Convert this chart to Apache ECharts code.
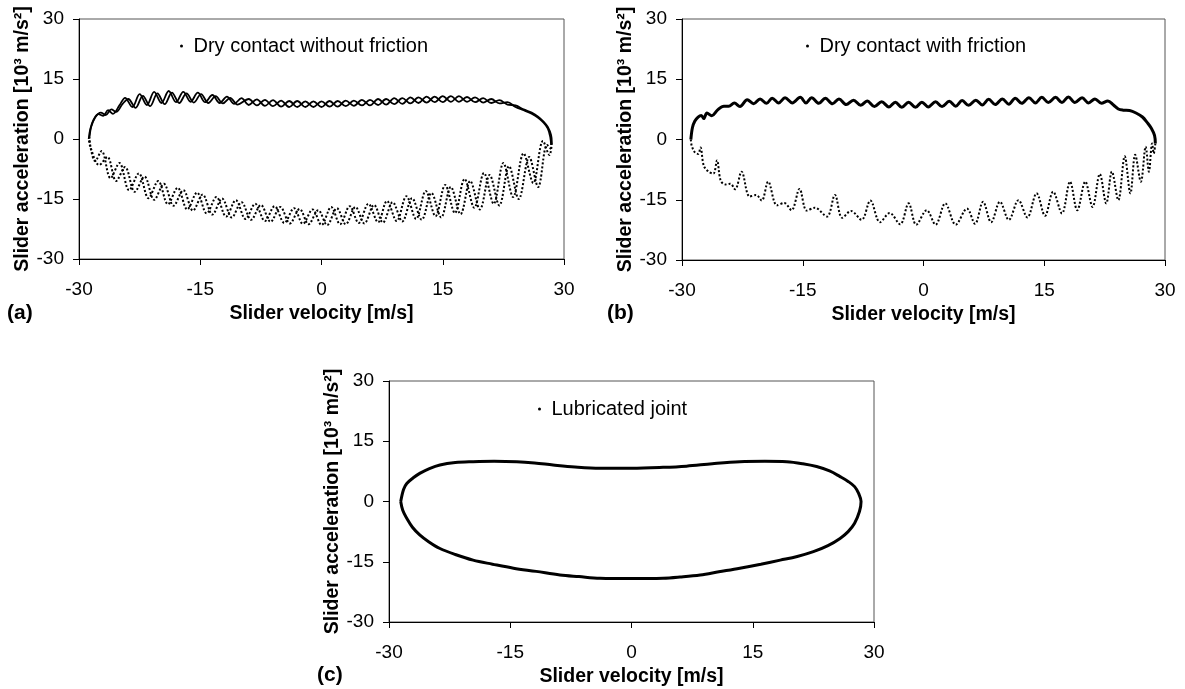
<!DOCTYPE html>
<html><head><meta charset="utf-8">
<script src="https://cdn.jsdelivr.net/npm/echarts@6/dist/echarts.min.js"></script>
<style>html,body{margin:0;padding:0;background:#fff}#chart{width:1185px;height:689px}</style>
</head><body><div id="chart"></div>
<script>
const axisTicks = [-30, -15, 0, 15, 30];
const xAxisTitle = 'Slider velocity [m/s]';
const yAxisTitle = 'Slider acceleration [10³ m/s²]';
const panelLabels = ['(a)', '(b)', '(c)'];
const legendNames = ['Dry contact without friction', 'Dry contact with friction', 'Lubricated joint'];

// Panel (a): dry contact without friction (two cycles)
const aUpper1 = [[-28.8,0.0],[-28.6,2.5],[-28.2,4.8],[-27.6,6.2],[-27.0,5.8],[-26.4,7.2],[-25.8,6.3],[-25.0,8.4],
 [-24.3,10.3],[-23.4,8.0],[-22.5,11.2],[-21.6,8.5],[-20.7,11.8],[-19.8,9.0],[-18.9,12.0],[-18.0,9.2],[-17.1,11.8],[-16.2,9.3],
 [-15.3,11.6],[-14.4,9.2],[-13.5,11.0],[-12.6,9.0],[-11.7,10.6],[-10.8,8.8],[-9.9,10.2],[-9.0,8.5],[-8.0,9.9],[-7.0,8.3],
 [-6.0,9.7],[-5.0,8.1],[-4.0,9.5],[-3.0,8.0],[-2.0,9.4],[-1.0,8.0],[0.0,9.4],[1.0,8.1],[2.0,9.5],[3.0,8.2],[4.0,9.6],[5.0,8.4],
 [6.0,9.8],[7.0,8.5],[8.0,10.0],[9.0,8.7],[10.0,10.2],[11.0,8.9],[12.0,10.4],[13.0,9.1],[14.0,10.6],[15.0,9.2],[16.0,10.7],
 [17.0,9.3],[18.0,10.5],[19.0,9.2],[20.0,10.2],[21.0,9.0],[22.0,9.7],[23.0,8.6],[24.0,8.4],[25.0,7.4],[26.0,6.6],[26.8,5.6],
 [27.5,4.3],[28.0,3.0],[28.4,1.0],[28.5,-1.0]];
const aUpper2 = [[-28.7,0.5],[-28.5,3.0],[-28.0,5.4],[-27.3,6.6],[-26.7,6.0],[-26.0,7.4],[-25.4,6.8],[-24.6,8.8],
 [-23.9,10.0],[-23.0,7.8],[-22.1,10.8],[-21.2,8.2],[-20.3,11.4],[-19.4,8.7],[-18.5,11.6],[-17.6,9.0],[-16.7,11.4],[-15.8,9.1],
 [-14.9,11.2],[-14.0,9.0],[-13.1,10.7],[-12.2,8.9],[-11.3,10.3],[-10.4,8.6],[-9.0,10.0],[-8.0,8.4],[-7.0,9.8],[-6.0,8.2],
 [-5.0,9.6],[-4.0,8.0],[-3.0,9.5],[-2.0,8.0],[-1.0,9.4],[0.0,8.0],[1.0,9.5],[2.0,8.1],[3.0,9.6],[4.0,8.3],[5.0,9.8],[6.0,8.4],
 [7.0,10.0],[8.0,8.6],[9.0,10.2],[10.0,8.8],[11.0,10.4],[12.0,9.0],[13.0,10.6],[14.0,9.2],[15.0,10.7],[16.0,9.3],[17.0,10.7],
 [18.0,9.3],[19.0,10.4],[20.0,9.1],[21.0,10.0],[22.0,8.9],[23.0,9.2],[24.0,8.0],[25.0,7.2],[26.0,6.3],[26.8,5.3],[27.5,4.0],
 [28.0,2.6],[28.3,0.5],[28.4,-1.5]];
const aLower1 = [[28.5,-1.0],[28.2,-4.0],[27.4,-0.5],[26.2,-11.0],[25.0,-3.6],[23.7,-14.5],[22.5,-6.0],[21.3,-16.2],[20.1,-8.5],
 [18.9,-17.2],[17.7,-10.0],[16.5,-18.5],[15.3,-11.5],[14.1,-19.3],[12.9,-13.0],[11.7,-20.0],[10.5,-14.3],[9.3,-20.5],
 [8.1,-15.5],[7.0,-20.8],[5.8,-16.2],[4.6,-21.0],[3.5,-16.8],[2.3,-21.3],[1.2,-17.0],[0.0,-21.5],[-1.1,-17.6],[-2.3,-21.2],
 [-3.4,-17.3],[-4.6,-21.0],[-5.8,-16.8],[-7.0,-20.5],[-8.2,-16.2],[-9.4,-20.0],[-10.6,-15.3],[-11.8,-19.4],[-13.0,-14.5],
 [-14.2,-18.6],[-15.4,-13.4],[-16.6,-17.6],[-17.8,-12.2],[-19.0,-16.3],[-20.2,-10.5],[-21.4,-14.8],[-22.6,-8.6],[-23.8,-12.8],
 [-25.0,-6.0],[-26.1,-9.8],[-27.2,-3.0],[-28.0,-5.5],[-28.6,-2.0],[-28.8,0.0]];
const aLower2 = [[28.4,-2.5],[27.9,-1.5],[26.8,-12.0],[25.7,-4.5],[24.4,-15.0],[23.2,-6.8],[22.0,-16.6],[20.8,-9.0],[19.6,-17.6],
 [18.4,-10.5],[17.2,-18.8],[16.0,-12.0],[14.8,-19.6],[13.6,-13.5],[12.4,-20.2],[11.2,-14.8],[10.0,-20.6],[8.8,-15.8],
 [7.6,-20.9],[6.5,-16.5],[5.3,-21.1],[4.2,-17.0],[3.0,-21.3],[1.9,-17.3],[0.7,-21.5],[-0.4,-17.8],[-1.6,-21.3],[-2.7,-17.5],
 [-3.9,-21.1],[-5.1,-17.0],[-6.3,-20.7],[-7.5,-16.5],[-8.7,-20.2],[-9.9,-15.8],[-11.1,-19.6],[-12.3,-14.9],[-13.5,-18.9],
 [-14.7,-13.9],[-15.9,-17.9],[-17.1,-12.8],[-18.3,-16.7],[-19.5,-11.2],[-20.7,-15.2],[-21.9,-9.4],[-23.1,-13.2],[-24.3,-7.0],
 [-25.4,-10.5],[-26.5,-4.5],[-27.5,-6.5],[-28.5,-2.5],[-28.7,0.5]];

// Panel (b): dry contact with friction
const bUpper = [[-28.9,0.0],[-28.7,3.0],[-28.4,4.6],[-28.0,5.6],[-27.6,6.0],[-27.3,5.2],[-26.9,6.6],[-26.3,5.9],[-25.6,7.3],
 [-24.8,8.3],[-24.2,8.3],[-23.5,9.1],[-22.8,8.2],[-21.9,9.9],[-21.1,8.9],[-20.3,10.1],[-19.5,9.0],[-18.8,10.3],[-18.0,9.1],
 [-17.2,10.4],[-16.3,9.1],[-15.3,10.5],[-14.6,9.1],[-13.9,10.4],[-13.0,9.0],[-12.2,10.3],[-11.3,8.9],[-10.5,10.1],[-9.6,8.7],
 [-8.7,9.8],[-7.8,8.5],[-7.0,9.6],[-6.1,8.2],[-5.2,9.4],[-4.3,8.1],[-3.5,9.3],[-2.7,8.0],[-1.85,9.3],[-1.0,8.0],[-0.2,9.3],
 [0.6,8.1],[1.5,9.4],[2.3,8.2],[3.2,9.5],[4.0,8.3],[4.8,9.7],[5.6,8.5],[6.5,9.8],[7.3,8.6],[8.1,10.0],[8.9,8.7],[9.8,10.1],
 [10.6,8.8],[11.4,10.3],[12.2,9.0],[13.1,10.4],[13.9,9.1],[14.7,10.5],[15.5,9.2],[16.4,10.5],[17.2,9.2],[18.0,10.6],[18.8,9.2],
 [19.7,10.4],[20.5,9.1],[21.3,10.1],[22.1,9.0],[22.9,9.6],[23.6,8.6],[24.2,7.6],[24.8,7.3],[25.6,7.2],[26.4,6.6],[27.2,5.6],
 [27.8,4.2],[28.3,2.8],[28.7,1.0],[28.8,-1.0]];
const bLower = [[28.8,-1.0],[28.6,-3.5],[28.4,-1.0],[28.0,-8.0],[27.6,-1.8],[27.0,-10.5],[26.3,-3.8],[25.7,-13.4],[25.0,-4.2],
 [24.2,-15.1],[23.4,-8.0],[22.7,-15.9],[21.9,-8.6],[21.0,-16.8],[20.1,-10.5],[19.1,-17.6],[18.2,-10.5],[17.2,-18.4],
 [16.1,-13.0],[15.1,-19.0],[14.05,-13.4],[12.9,-19.4],[11.8,-15.1],[10.6,-20.0],[9.5,-15.5],[8.4,-20.6],[7.4,-15.5],
 [6.4,-21.0],[5.4,-17.2],[4.0,-21.2],[2.7,-15.9],[1.5,-21.2],[0.4,-17.6],[-0.9,-21.2],[-1.85,-15.9],[-2.9,-21.1],
 [-4.2,-18.3],[-5.4,-20.6],[-6.6,-15.2],[-7.7,-20.0],[-9.0,-17.8],[-10.1,-19.5],[-11.0,-13.8],[-12.0,-19.2],[-13.5,-17.0],
 [-14.5,-17.7],[-15.4,-12.3],[-16.4,-17.6],[-17.3,-15.8],[-18.2,-16.4],[-19.3,-10.5],[-20.1,-15.2],[-20.8,-13.8],
 [-21.6,-14.2],[-22.6,-8.0],[-23.4,-12.4],[-24.0,-11.0],[-24.6,-11.2],[-25.2,-10.2],[-25.65,-5.2],[-26.1,-8.5],[-26.7,-8.0],
 [-27.3,-6.5],[-27.7,-2.0],[-28.0,-3.6],[-28.4,-3.2],[-28.8,-1.5],[-28.9,0.0]];

// Panel (c): lubricated joint
const cLoop = [[-28.55,0],[-28.2,3.0],[-27.8,4.5],[-27.0,5.9],[-26.2,7.0],[-25.0,8.2],[-23.7,9.1],[-21.8,9.7],[-19.6,9.9],
 [-17.0,10.0],[-14.2,9.9],[-12.0,9.6],[-9.7,9.1],[-7.0,8.6],[-3.9,8.3],[0,8.3],[3.9,8.5],[6.8,8.8],[10.0,9.4],[13.4,9.9],
 [16.5,10.0],[19.2,9.9],[21.2,9.4],[22.9,8.7],[24.5,7.6],[25.8,6.2],[26.8,5.0],[27.6,3.7],[28.1,2.0],[28.4,0],[28.2,-2.5],
 [27.6,-5.4],[26.8,-7.5],[25.8,-9.2],[24.3,-11.0],[22.5,-12.5],[20.5,-13.7],[18.4,-14.6],[16.0,-15.6],[13.4,-16.6],
 [10.8,-17.5],[8.5,-18.3],[6.0,-18.8],[3.9,-19.1],[0,-19.2],[-3.9,-19.1],[-6.5,-18.7],[-8.85,-18.3],[-11.8,-17.4],
 [-14.6,-16.6],[-17.2,-15.6],[-19.6,-14.6],[-21.8,-13.2],[-23.7,-11.7],[-25.1,-10.0],[-26.2,-8.3],[-27.1,-6.4],
 [-27.8,-4.2],[-28.3,-2.2],[-28.55,0]];

const FONT = 'Liberation Sans, Arial, sans-serif';
const grids = [
  {left: 79, top: 19, width: 485, height: 240},
  {left: 682, top: 19, width: 483, height: 241},
  {left: 389, top: 381, width: 485, height: 241}
];
const legendPos = [{left: 180, top: 36}, {left: 806, top: 36}, {left: 538, top: 399}];
const labelPos = [{left: 7, top: 303}, {left: 607, top: 303}, {left: 317, top: 665}];

function mkX(i) {
  return {
    type: 'value', gridIndex: i, min: axisTicks[0], max: axisTicks[axisTicks.length - 1], interval: 15,
    name: xAxisTitle, nameLocation: 'middle', nameGap: 45,
    nameTextStyle: {fontFamily: FONT, fontWeight: 'bold', fontSize: 19.5, color: '#000'},
    axisLine: {onZero: false, lineStyle: {color: '#000', width: 1}},
    axisTick: {show: true, inside: false, length: 6, lineStyle: {color: '#000'}},
    axisLabel: {fontFamily: FONT, fontSize: 19, color: '#000', margin: 21},
    splitLine: {show: false}
  };
}
function mkY(i) {
  return {
    type: 'value', gridIndex: i, min: axisTicks[0], max: axisTicks[axisTicks.length - 1], interval: 15,
    name: yAxisTitle, nameLocation: 'middle', nameGap: 46, nameRotate: 90,
    nameTextStyle: {fontFamily: FONT, fontWeight: 'bold', fontSize: 19.5, color: '#000'},
    axisLine: {onZero: false, lineStyle: {color: '#000', width: 1}},
    axisTick: {show: true, inside: false, length: 6, lineStyle: {color: '#000'}},
    axisLabel: {fontFamily: FONT, fontSize: 19, color: '#000', margin: 15},
    splitLine: {show: false}
  };
}
function line(name, data, idx, dotted, width) {
  return {
    type: 'line', name: name, data: data, xAxisIndex: idx, yAxisIndex: idx,
    showSymbol: false, smooth: 0.35, animation: false,
    itemStyle: {color: '#000'},
    lineStyle: {color: '#000', width: width, type: dotted ? 'dotted' : 'solid'}
  };
}

const option = {
  animation: false,
  backgroundColor: '#fff',
  grid: grids.map(g => Object.assign({show: true, borderColor: '#555', borderWidth: 1, backgroundColor: 'transparent'}, g)),
  xAxis: [0, 1, 2].map(mkX),
  yAxis: [0, 1, 2].map(mkY),
  title: panelLabels.map((t, i) => ({
    text: t, left: labelPos[i].left, top: labelPos[i].top, padding: 0,
    textStyle: {fontFamily: FONT, fontWeight: 'bold', fontSize: 21, color: '#000'}
  })),
  legend: legendNames.map((n, i) => ({
    data: [{name: n, icon: 'circle'}], left: legendPos[i].left, top: legendPos[i].top,
    itemWidth: 14, itemHeight: 3, padding: 0, selectedMode: false,
    itemStyle: {color: '#000'},
    textStyle: {fontFamily: FONT, fontSize: 20, color: '#000'}
  })),
  series: [
    line(legendNames[0], aUpper1, 0, false, 1.8),
    line(legendNames[0], aUpper2, 0, false, 1.8),
    line(legendNames[0], aLower1, 0, true, 2),
    line(legendNames[0], aLower2, 0, true, 2),
    line(legendNames[1], bUpper, 1, false, 3),
    line(legendNames[1], bLower, 1, true, 2),
    line(legendNames[2], cLoop, 2, false, 3)
  ]
};
const chart = echarts.init(document.getElementById('chart'), null, {renderer: 'canvas'});
chart.setOption(option);
</script></body></html>
